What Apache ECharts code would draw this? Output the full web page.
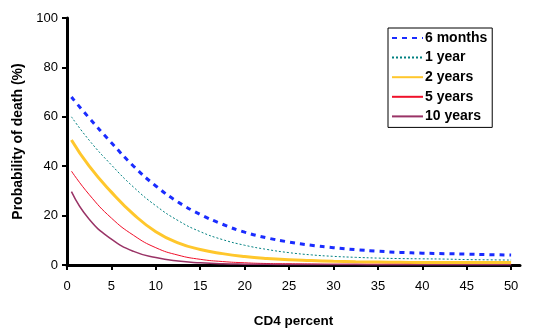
<!DOCTYPE html>
<html>
<head>
<meta charset="utf-8">
<script src="https://cdn.jsdelivr.net/npm/echarts@6/dist/echarts.min.js"></script>
<style>
  html, body { margin: 0; padding: 0; background: #fff; }
  #chart { width: 540px; height: 334px; }
</style>
</head>
<body>
<div id="chart"></div>
<script>
// CD4 percent (x) and probability of death (%)
const cd4 = [0.5, 2.5, 5, 7.5, 10, 12.5, 15, 17.5, 20, 22.5, 25, 27.5, 30, 32.5, 35, 37.5, 40, 42.5, 45, 47.5, 50];
const sixMonths = [68, 59.5, 49.5, 40, 32, 25.5, 20.5, 16.5, 13.3, 11, 9.3, 8, 7, 6.2, 5.6, 5.1, 4.8, 4.6, 4.4, 4.2, 4];
const oneYear   = [60, 50.5, 40.5, 31.5, 24, 18, 13.5, 10.3, 8, 6.3, 5, 4.1, 3.5, 3.1, 2.8, 2.6, 2.5, 2.4, 2.2, 2.1, 2];
const twoYears  = [50.6, 40, 29.5, 20.5, 13.5, 9, 6.3, 4.6, 3.4, 2.6, 2.1, 1.8, 1.5, 1.3, 1.2, 1.1, 1, 1, 1, 1, 1];
const fiveYears = [38, 28.5, 19, 12, 7, 4, 2.3, 1.4, 0.9, 0.6, 0.5, 0.4, 0.3, 0.3, 0.3, 0.3, 0.2, 0.2, 0.2, 0.2, 0.2];
const tenYears  = [29.7, 18.5, 10.5, 5.5, 3, 1.6, 0.9, 0.5, 0.35, 0.3, 0.2, 0.2, 0.2, 0.2, 0.1, 0.1, 0.1, 0.1, 0.1, 0.1, 0.1];
const xTicks = [0, 5, 10, 15, 20, 25, 30, 35, 40, 45, 50];

const pairs = ys => cd4.map((x, i) => [x, ys[i]]);
const font = 'Liberation Sans, Arial, sans-serif';

const chart = echarts.init(document.getElementById('chart'));
chart.setOption({
  animation: false,
  grid: { left: 67, right: 20, top: 18, bottom: 69 },
  legend: {
    orient: 'vertical',
    left: 388,
    top: 28,
    padding: [3, 5, 4, 3],
    borderColor: '#000',
    borderWidth: 1,
    itemWidth: 31,
    itemHeight: 14,
    itemGap: 5.6,
    itemStyle: { opacity: 0 },
    textStyle: { fontFamily: font, fontWeight: 'bold', fontSize: 14, lineHeight: 14, color: '#000', padding: [0, 0, 0, -3] },
    data: ['6 months', '1 year', '2 years', '5 years', '10 years']
  },
  xAxis: {
    type: 'value',
    min: 0,
    max: 51,
    interval: 5,
    name: 'CD4 percent',
    nameLocation: 'middle',
    nameGap: 49,
    nameTextStyle: { fontFamily: font, fontWeight: 'bold', fontSize: 13.5, color: '#000' },
    axisLine: { show: true, lineStyle: { color: '#000', width: 3 } },
    axisTick: { show: true, length: 5, lineStyle: { color: '#000', width: 2 }, customValues: xTicks },
    axisLabel: { color: '#000', fontFamily: font, fontSize: 13, margin: 15, customValues: xTicks },
    splitLine: { show: false }
  },
  yAxis: {
    type: 'value',
    min: 0,
    max: 100,
    interval: 20,
    name: 'Probability of death (%)',
    nameLocation: 'middle',
    nameGap: 40,
    nameTextStyle: { fontFamily: font, fontWeight: 'bold', fontSize: 14, color: '#000' },
    axisLine: { show: true, lineStyle: { color: '#000', width: 3 } },
    axisTick: { show: true, length: 5, lineStyle: { color: '#000', width: 2 } },
    axisLabel: { color: '#000', fontFamily: font, fontSize: 13, margin: 9 },
    splitLine: { show: false }
  },
  series: [
    {
      name: '6 months', type: 'line', smooth: 0.5, symbol: 'none',
      data: pairs(sixMonths), color: '#1a2cff',
      lineStyle: { width: 3, type: [5, 5], color: '#1a2cff' }
    },
    {
      name: '1 year', type: 'line', smooth: 0.5, symbol: 'none',
      data: pairs(oneYear), color: '#008080',
      lineStyle: { width: 1, type: [2, 2], color: '#008080' }
    },
    {
      name: '2 years', type: 'line', smooth: 0.5, symbol: 'none',
      data: pairs(twoYears), color: '#ffc72c',
      lineStyle: { width: 3, color: '#ffc72c' }
    },
    {
      name: '5 years', type: 'line', smooth: 0.5, symbol: 'none',
      data: pairs(fiveYears), color: '#f0102a',
      lineStyle: { width: 1, color: '#f0102a' }
    },
    {
      name: '10 years', type: 'line', smooth: 0.5, symbol: 'none',
      data: pairs(tenYears), color: '#993366',
      lineStyle: { width: 1.5, color: '#993366' }
    }
  ]
});
</script>
</body>
</html>
